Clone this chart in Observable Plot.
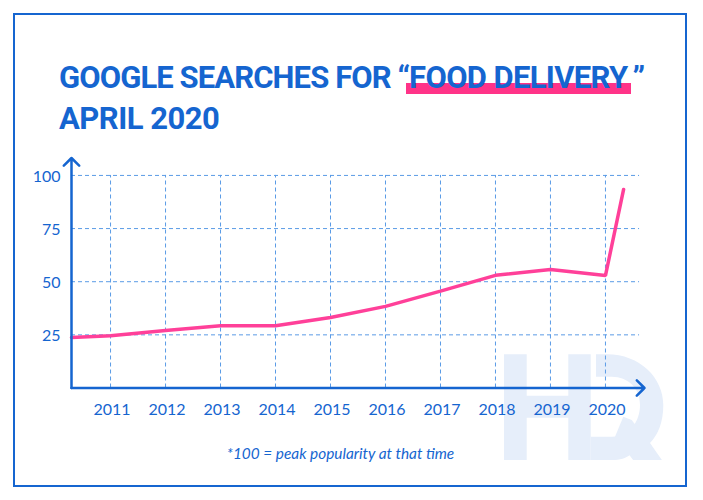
<!DOCTYPE html>
<html><head><meta charset="utf-8">
<script src="https://cdn.jsdelivr.net/npm/d3@7"></script>
<script src="https://cdn.jsdelivr.net/npm/@observablehq/plot@0.6"></script>
<style>
html,body{margin:0;padding:0;background:#fff;overflow:hidden}
#page{position:relative;width:703px;height:500px;overflow:hidden}
#frame{position:absolute;left:13px;top:13px;width:670px;height:470px;border:2px solid #1565d0}
#chart{position:absolute;left:0;top:0}
.t{position:absolute;left:59px;color:#1565d0;font:700 31px/40px "Roboto";white-space:nowrap}
.hl{background:linear-gradient(#ff3388,#ff3388) no-repeat left 24px/100% 11px;padding:0 3px;margin:0 2px 0 -3px;letter-spacing:-0.66px}
#note{position:absolute;left:0;width:681px;top:444px;text-align:center;color:#1565d0;font:italic 15.4px "Lato"}
</style></head><body>
<div id="page">
<div id="frame"></div>
<div id="chart"></div>
<div class="t" style="top:57.5px;letter-spacing:-0.9px">GOOGLE SEARCHES FOR “<span class="hl">FOOD DELIVERY</span>”</div>
<div class="t" style="top:98.5px;letter-spacing:-0.5px">APRIL 2020</div>
<div id="note">*100 = peak popularity at that time</div>
</div>
<script>
const years=[2010.29,2011,2012,2013,2014,2015,2016,2017,2018,2019,2020,2020.33];
const popularity=[23.8,24.6,27.1,29.3,29.3,33.2,38.4,45.6,53,55.8,52.9,93.4];
const yTicks=[25,50,75,100];
const xTicks=[2011,2012,2013,2014,2015,2016,2017,2018,2019,2020];
const xMin=2010.29,xMax=2020.71,gridEnd=2020.62,yMax=108.2;
const blue="#1565d0",pink="#ff4099",gridBlue="#5a9be6",logo="#e6eefa";
const series=years.map((year,i)=>({year,value:popularity[i]}));
const hrLogo=()=>{
  const g=d3.create("svg:g").attr("aria-label","logo").attr("fill",logo);
  g.append("path").attr("d","M504 354.3H526.7V395.7H568.3V354.3H590.7V460H568.3V417.7H526.7V460H504Z");
  g.append("path").attr("d","M596 354.3H607C640 354.3 663.3 378 663.3 405C663.3 422 658 435 650 443L661.7 460H633.3L630 455C626 458 620 460 612 460H590.7V436.7H612C630 436.7 640 421 640 405C640 388 628 376.7 611.7 376.7H596Z");
  g.append("path").attr("d","M623.3 416.7L631.7 420L661.7 460H633.3L615 436.7Z");
  return g.node();
};
const plot=Plot.plot({
  width:703,height:500,marginLeft:71,marginRight:59,marginTop:157.5,marginBottom:112.5,
  style:{background:"transparent",fontFamily:"Lato"},
  x:{domain:[xMin,xMax],axis:null},
  y:{domain:[0,yMax],axis:null},
  marks:[
    hrLogo,
    Plot.ruleX(xTicks,{x:d=>d,y1:0,y2:100,stroke:gridBlue,strokeWidth:1,strokeDasharray:"4,3"}),
    Plot.ruleY(yTicks,{y:d=>d,x1:xMin,x2:gridEnd,stroke:gridBlue,strokeWidth:1,strokeDasharray:"4,3"}),
    Plot.axisX(xTicks,{anchor:"bottom",tickSize:0,tickPadding:16,tickFormat:d=>String(d),fontSize:16,color:blue,label:null,dx:1.5}),
    Plot.axisY(yTicks,{anchor:"left",tickSize:0,tickPadding:11,fontSize:16,color:blue,label:null,dy:1}),
    Plot.line(series,{x:"year",y:"value",stroke:pink,strokeWidth:3.5,strokeLinejoin:"miter"}),
    Plot.arrow([0],{x1:xMin,y1:0,x2:xMin,y2:yMax,stroke:blue,strokeWidth:2.5,headLength:6.5,headAngle:90,bend:0,inset:0}),
    Plot.arrow([0],{x1:xMin,y1:0,x2:xMax,y2:0,stroke:blue,strokeWidth:2.5,headLength:6.5,headAngle:90,bend:0,inset:0})
  ]
});
document.getElementById("chart").appendChild(plot);
</script>
</body></html>
